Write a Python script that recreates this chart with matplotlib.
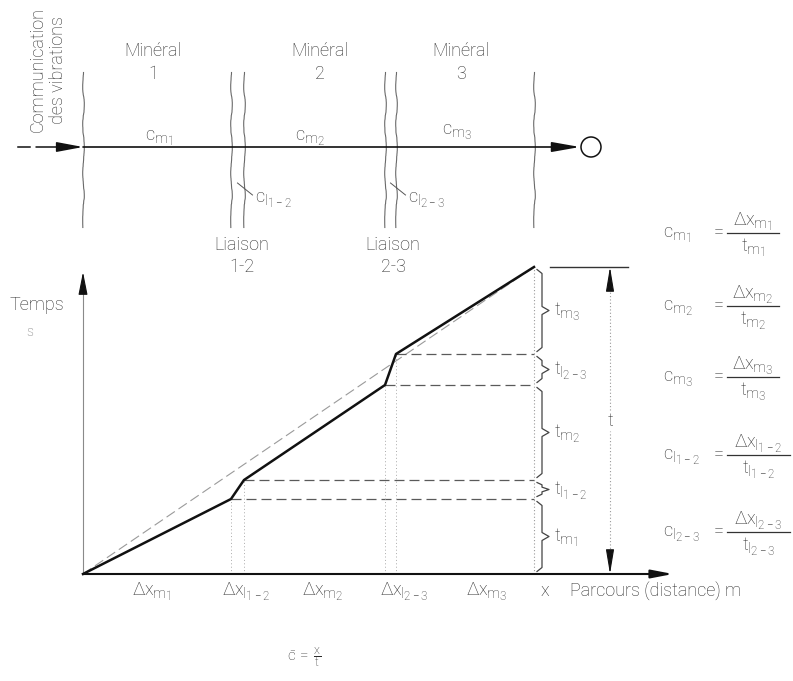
import numpy as np
import matplotlib
matplotlib.use("Agg")
import matplotlib.pyplot as plt
import matplotlib._mathtext as _mt
from matplotlib.patches import Circle, FancyArrowPatch

# ---------------- data ----------------
segment_keys = ["m_1", "l_{1-2}", "m_2", "l_{2-3}", "m_3"]
delta_x = [14.8, 1.3, 14.1, 1.1, 13.8]      # distance of each segment
delta_t = [7.5, 1.9, 9.5, 3.1, 8.7]         # time spent in each segment
mineral_numbers = ["1", "2", "3"]
liaison_names = ["1-2", "2-3"]
bottom_labels = [r"$\Delta x_{m_1}$", r"$\Delta x_{l_{1-2}}$", r"$\Delta x_{m_2}$",
                 r"$\Delta x_{l_{2-3}}$", r"$\Delta x_{m_3}$"]
brace_labels = [r"$t_{m_1}$", r"$t_{l_{1-2}}$", r"$t_{m_2}$", r"$t_{l_{2-3}}$", r"$t_{m_3}$"]
eq_order = [0, 2, 4, 1, 3]   # order of the equations on the right

# ---------------- style ----------------
_mt.SHRINK_FACTOR = 0.8      # larger sub/sub-subscripts, as in the drawing
plt.rcParams["font.family"] = ["Roboto", "DejaVu Sans"]
plt.rcParams["font.weight"] = "light"
plt.rcParams["mathtext.fontset"] = "custom"
plt.rcParams["mathtext.rm"] = "Roboto:light"
plt.rcParams["mathtext.it"] = "Roboto:light"
plt.rcParams["mathtext.bf"] = "Roboto"
plt.rcParams["mathtext.sf"] = "Roboto:light"
TXT = "#2b2b2b"
LINE = "#111111"
GREY = "#8a8a8a"
FS = 13

xc = np.concatenate([[0.0], np.cumsum(delta_x)])
tc = np.concatenate([[0.0], np.cumsum(delta_t)])

fig = plt.figure(figsize=(7.93, 6.81), dpi=100)
ax = fig.add_axes([0, 0, 1, 1])
OX, OY, S = 83, 574, 10.0   # origin pixel and pixels per unit
ax.set_xlim(-OX / S, (793 - OX) / S)
ax.set_ylim(-(681 - OY) / S, OY / S)
ax.axis("off")

def X(px):
    return (px - OX) / S

def Y(py):
    return (OY - py) / S

def arrow(p0, p1, lw=1.2, color=LINE, hl=1.3, hw=0.25, ms=10, z=3):
    a = FancyArrowPatch(p0, p1, arrowstyle=f"-|>,head_length={hl},head_width={hw}",
                        mutation_scale=ms, lw=lw, color=color, shrinkA=0, shrinkB=0, zorder=z)
    ax.add_patch(a)

# ---------------- graph ----------------
arrow((0, 0), (X(673), 0), lw=1.5)
ax.plot([0, 0], [0, Y(290)], color=GREY, lw=0.8)
arrow((0, Y(290)), (0, Y(272)), lw=0.8, hl=1.4, hw=0.28)

# average-speed dashed line
ax.plot([0, xc[-1]], [0, tc[-1]], color="#9a9a9a", lw=0.8, dashes=(9, 4))

# travel-time polyline
ax.plot(xc, tc, color=LINE, lw=1.8, solid_joinstyle="round", zorder=4)

# horizontal dashed projections
for i in range(1, 5):
    ax.plot([xc[i], xc[-1]], [tc[i], tc[i]], color="#5a5a5a", lw=0.9, dashes=(8, 4))

# vertical dotted projections
for i in range(1, 5):
    ax.plot([xc[i], xc[i]], [0, tc[i]], color="#aaaaaa", lw=0.7, ls=(0, (1, 2.5)))
ax.plot([xc[-1], xc[-1]], [0, tc[-1]], color="#999999", lw=0.8, ls=(0, (1, 2)))

# braces
def brace(y0, y1, x_end=X(537), x_spine=X(542), x_tip=X(549), gap=0.25):
    a, b = y0 + gap, y1 - gap
    m = 0.5 * (y0 + y1)
    k = min(0.4, (b - a) / 6)
    xs = [x_end, x_spine, x_spine, x_tip, x_spine, x_spine, x_end]
    ys = [a, a + k, m - k, m, m + k, b - k, b]
    ax.plot(xs, ys, color="#444444", lw=0.9, solid_joinstyle="round")

for i in range(5):
    brace(tc[i], tc[i + 1])
    ax.text(X(554), 0.5 * (tc[i] + tc[i + 1]) - 0.1, brace_labels[i], fontsize=FS,
            color=TXT, ha="left", va="center")

# total time dimension
xd = X(610)
ax.plot([X(550), X(628)], [tc[-1], tc[-1]], color="#333333", lw=1.0)
tmid = 0.5 * tc[-1]
ax.plot([xd, xd], [Y(555), tmid - 1.0], color="#9a9a9a", lw=0.8, ls=(0, (1, 2)))
ax.plot([xd, xd], [tmid + 1.0, Y(288)], color="#9a9a9a", lw=0.8, ls=(0, (1, 2)))
arrow((xd, tc[-1] - 1.9), (xd, tc[-1]), lw=0.8, hl=1.5, hw=0.25)
arrow((xd, 1.9), (xd, 0), lw=0.8, hl=1.5, hw=0.25)
ax.text(xd, tmid, "t", fontsize=FS, color=TXT, ha="center", va="center")

# bottom labels
bottom_px = [152, 246, 323, 404, 487]
for lab, px in zip(bottom_labels, bottom_px):
    ax.text(X(px), Y(596), lab, fontsize=FS, color=TXT, ha="center", va="baseline")
ax.text(X(545), Y(596), "x", fontsize=FS, color=TXT, ha="center", va="baseline")
ax.text(X(570), Y(596), "Parcours (distance) m", fontsize=FS, color=TXT, ha="left", va="baseline")

ax.text(X(37), Y(305), "Temps", fontsize=FS, color=TXT, ha="center", va="center")
ax.text(X(30), Y(332), "s", fontsize=10, color="#777777", ha="center", va="center")

ax.text(X(304), Y(658), r"$\bar{c}\,=\,\frac{x}{t}$", fontsize=11, color=TXT,
        ha="center", va="center")

# equations on the right
rows_px = [233, 306, 377, 455, 532]
for row, k in zip(rows_px, eq_order):
    key = segment_keys[k]
    ax.text(X(663), Y(row + 5), f"$c_{{{key}}}$", fontsize=FS, color=TXT, ha="left", va="baseline")
    ax.text(X(719), Y(row), "=", fontsize=FS, color=TXT, ha="center", va="center")
    right = 779 if key.startswith("m") else 790
    ctr = 0.5 * (727 + right)
    ax.plot([X(727), X(right)], [Y(row), Y(row)], color="#333333", lw=0.9)
    ax.text(X(ctr), Y(row - 7), rf"$\Delta x_{{{key}}}$", fontsize=FS, color=TXT,
            ha="center", va="baseline")
    ax.text(X(ctr), Y(row + 4), f"$t_{{{key}}}$", fontsize=FS, color=TXT,
            ha="center", va="top")

# ---------------- schematic (top) ----------------
yl = Y(147)
for xb in xc:
    ln, = ax.plot([xb, xb], [Y(72), Y(227)], color="#6a6a6a", lw=0.8)
    ln.set_sketch_params(scale=0.8, length=60, randomness=4)

ax.plot([X(18), X(30)], [yl, yl], color=LINE, lw=1.1)
arrow((X(36), yl), (xc[0], yl), lw=1.1, hl=1.6, hw=0.3)
arrow((xc[0], yl), (X(580), yl), lw=1.2, hl=1.7, hw=0.3)
ax.add_patch(Circle((X(591), yl), 1.0, fill=False, lw=1.1, ec=LINE))

ax.text(X(48), Y(70), "Communication\ndes vibrations", rotation=90, fontsize=FS,
        color=TXT, ha="center", va="center", linespacing=1.15, multialignment="center")

mineral_idx = [0, 2, 4]
mineral_px = [153, 320, 461]
for num, px in zip(mineral_numbers, mineral_px):
    ax.text(X(px), Y(51), "Minéral", fontsize=FS, color=TXT, ha="center", va="center")
    ax.text(X(px), Y(74), num, fontsize=FS, color=TXT, ha="center", va="center")

cm_px = [(145, 141), (295, 141), (442, 135)]
for k, (px, py) in zip(mineral_idx, cm_px):
    ax.text(X(px), Y(py), f"$c_{{{segment_keys[k]}}}$", fontsize=FS, color=TXT,
            ha="left", va="baseline")

liaison_idx = [1, 3]
liaison_px = [242, 393]
for k, name, px in zip(liaison_idx, liaison_names, liaison_px):
    ax.text(X(px), Y(245), "Liaison", fontsize=FS, color=TXT, ha="center", va="center")
    ax.text(X(px), Y(267), name, fontsize=FS, color=TXT, ha="center", va="center")
    xm = 0.5 * (xc[k] + xc[k + 1])
    ax.plot([xm, xm + 1.5], [Y(183), Y(195)], color="#555555", lw=0.7)
    ax.text(xm + 1.7, Y(203), f"$c_{{{segment_keys[k]}}}$", fontsize=FS, color=TXT,
            ha="left", va="baseline")

fig.savefig("out.png", dpi=100)
